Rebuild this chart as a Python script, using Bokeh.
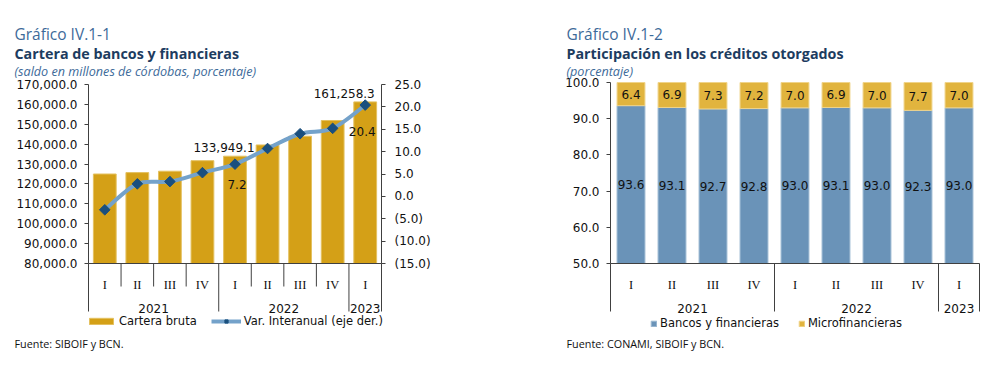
from bokeh.plotting import figure
from bokeh.models import (Range1d, LinearAxis, FixedTicker, NumeralTickFormatter,
                          Label, Legend, LegendItem, ColumnDataSource)
from bokeh.layouts import row
from bokeh.embed import file_html
from bokeh.resources import INLINE
from bokeh.core.properties import value

# ---------------- data ----------------
quarters = ["I", "II", "III", "IV", "I", "II", "III", "IV", "I"]
years = ["2021", "2022", "2023"]
quarters_per_year = [4, 4, 1]

cartera_bruta = [125000.0, 125700.0, 126400.0, 131700.0, 133949.1,
                 139600.0, 144000.0, 151900.0, 161258.3]
var_interanual = [-3.0, 2.8, 3.3, 5.3, 7.2, 10.7, 14.0, 15.2, 20.4]
cartera_ticks = [80000, 90000, 100000, 110000, 120000, 130000,
                 140000, 150000, 160000, 170000]
var_ticks = [-15, -10, -5, 0, 5, 10, 15, 20, 25]
labelled_bars = [4, 8]
labelled_points = [4, 8]

bancos = [93.6, 93.1, 92.7, 92.8, 93.0, 93.1, 93.0, 92.3, 93.0]
microfinancieras = [6.4, 6.9, 7.3, 7.2, 7.0, 6.9, 7.0, 7.7, 7.0]
share_ticks = [50, 60, 70, 80, 90, 100]

# ---------------- style ----------------
GOLD = "#D4A017"
GOLD_EDGE = "#E4C160"
LINE = "#74A2CA"
MARK = "#1A4F7E"
BLUE2 = "#6A93B8"
BLUE2_EDGE = "#9DBAD3"
GOLD2 = "#E1B43E"
GOLD2_EDGE = "#F0D48A"
AX = "#404040"
TXT = "#111111"
C_NUM = "#3D6A99"
C_TITLE = "#1D3C60"
NUMFONT = "DejaVu Sans"
TFONT = "Open Sans"

W1, W2, H = 558, 441, 369

xs = [i + 0.5 for i in range(len(quarters))]
bounds = [0]
for n in quarters_per_year:
    bounds.append(bounds[-1] + n)
year_centers = [(bounds[k] + bounds[k + 1]) / 2 for k in range(len(years))]
inner = [b for b in range(1, len(quarters)) if b not in bounds]
mid_b = [b for b in bounds if 0 < b < len(quarters)]
NQ = len(quarters)


def add_text(p, x, y, text, size, color, style="normal", font=TFONT):
    p.add_layout(Label(x=x, y=y, text=text, text_font=font, text_font_size=size,
                       text_color=color, text_font_style=style,
                       text_baseline="alphabetic", text_align="left"))


def make_fig(width, xr, yr):
    p = figure(width=width, height=H, x_range=xr, y_range=yr,
               output_backend="svg", toolbar_location=None,
               x_axis_location=None, y_axis_location=None,
               min_border=0, min_border_left=0, min_border_right=0,
               min_border_top=0, min_border_bottom=0)
    p.grid.grid_line_color = None
    p.outline_line_color = None
    p.background_fill_color = "white"
    p.border_fill_color = "white"
    return p


axis_kw = dict(major_tick_in=0, major_tick_out=4, minor_tick_line_color=None,
               axis_line_color=AX, major_tick_line_color=AX,
               major_label_text_font=NUMFONT, major_label_text_font_size="12px",
               major_label_text_color=TXT)

# ======================= Chart 1 =======================
XPU1 = 293 / 9          # px per category
VPP1 = 90000 / 179      # value per px (left axis)
PPP1 = 40 / 179         # percent per px (right axis)


def X1(px):
    return (px - 88) / XPU1


def Y1(py):
    return 170000 - (py - 84) * VPP1


def P1(py):
    return 25 - (py - 84) * PPP1


p1 = make_fig(W1, Range1d(X1(0), X1(W1)), Range1d(Y1(H), Y1(0)))
p1.extra_y_ranges = {"pct": Range1d(P1(H), P1(0))}

ax_l = LinearAxis(bounds=(80000, 170000), ticker=FixedTicker(ticks=cartera_ticks),
                  formatter=NumeralTickFormatter(format="0,0.0"), fixed_location=0,
                  major_label_standoff=7, **axis_kw)
p1.add_layout(ax_l, "left")
ax_r = LinearAxis(y_range_name="pct", bounds=(-15, 25), ticker=FixedTicker(ticks=var_ticks),
                  formatter=NumeralTickFormatter(format="(0.0)"), fixed_location=NQ,
                  major_label_standoff=9, **axis_kw)
p1.add_layout(ax_r, "right")

src1 = ColumnDataSource(dict(x=xs, top=cartera_bruta, var=var_interanual))
bars1 = p1.vbar(x="x", top="top", bottom=80000, width=0.7, source=src1,
                fill_color=GOLD, line_color=GOLD_EDGE, line_width=1)

# smooth line through the yearly-variation points (cubic Bezier segments)
bz = dict(x0=[], y0=[], x1=[], y1=[], cx0=[], cy0=[], cx1=[], cy1=[])
n = len(xs)
for i in range(n - 1):
    a = max(i - 1, 0)
    d = min(i + 2, n - 1)
    bz["x0"].append(xs[i]); bz["y0"].append(var_interanual[i])
    bz["x1"].append(xs[i + 1]); bz["y1"].append(var_interanual[i + 1])
    bz["cx0"].append(xs[i] + (xs[i + 1] - xs[a]) / 6)
    bz["cy0"].append(var_interanual[i] + (var_interanual[i + 1] - var_interanual[a]) / 6)
    bz["cx1"].append(xs[i + 1] - (xs[d] - xs[i]) / 6)
    bz["cy1"].append(var_interanual[i + 1] - (var_interanual[d] - var_interanual[i]) / 6)
p1.bezier(source=ColumnDataSource(bz), x0="x0", y0="y0", x1="x1", y1="y1",
          cx0="cx0", cy0="cy0", cx1="cx1", cy1="cy1",
          y_range_name="pct", line_color=LINE, line_width=4, line_cap="round")
marks = p1.scatter(x="x", y="var", source=src1, y_range_name="pct", marker="square",
                   angle=0.785398, size=7.5, fill_color=MARK, line_color=MARK)
# legend-only line (a single empty point, nothing is drawn in the plot)
legend_line = p1.line(x=[float("nan")], y=[float("nan")], y_range_name="pct",
                      line_color=LINE, line_width=4)

# value labels
p1.text(x=[xs[i] for i in labelled_bars], y=[cartera_bruta[i] for i in labelled_bars],
        text=[f"{cartera_bruta[i]:,.1f}" for i in labelled_bars],
        x_offset=[-11, -21], y_offset=-4, text_align="center", text_baseline="bottom",
        text_font=value(NUMFONT), text_font_size="12px", text_color=TXT)
p1.text(x=[xs[i] for i in labelled_points], y=[var_interanual[i] for i in labelled_points],
        text=[f"{var_interanual[i]:.1f}" for i in labelled_points], y_range_name="pct",
        x_offset=[2, -3], y_offset=[20, 26], text_align="center", text_baseline="middle",
        text_font=value(NUMFONT), text_font_size="12px", text_color=TXT)

# category axis (drawn below the value axis)
p1.segment(x0=[0], y0=[80000], x1=[NQ], y1=[80000], line_color=AX, line_width=1)
p1.segment(x0=inner, y0=80000, x1=inner, y1=Y1(286), line_color=AX, line_width=1)
p1.segment(x0=[0] + mid_b + [NQ], y0=80000, x1=[0] + mid_b + [NQ], y1=Y1(311),
           line_color=AX, line_width=1)
p1.text(x=xs, y=Y1(284), text=quarters, text_align="center", text_baseline="alphabetic",
        text_font=value("Liberation Serif"), text_font_size="12.5px", text_color=TXT)
p1.text(x=year_centers, y=Y1(308), text=years, text_align="center",
        text_baseline="alphabetic", text_font=value(NUMFONT), text_font_size="12px",
        text_color=TXT)

leg1 = Legend(items=[LegendItem(label="Cartera bruta", renderers=[bars1]),
                     LegendItem(label="Var. Interanual (eje der.)",
                                renderers=[legend_line, marks])],
              location=(86, 41), orientation="horizontal",
              label_text_font=NUMFONT, label_text_font_size="11.5px", label_text_color=TXT,
              glyph_width=30, glyph_height=8, label_height=14, label_standoff=3,
              spacing=14, padding=0, margin=0, border_line_color=None,
              background_fill_alpha=0)
p1.add_layout(leg1, "center")

add_text(p1, X1(14), Y1(33), "Gráfico IV.1-1", "15.5px", C_NUM)
add_text(p1, X1(14), Y1(52.5), "Cartera de bancos y financieras", "14.3px", C_TITLE, "bold")
add_text(p1, X1(14), Y1(71), "(saldo en millones de córdobas, porcentaje)", "12.6px", C_NUM, "italic")
add_text(p1, X1(14), Y1(343), "Fuente: SIBOIF y BCN.", "10.8px", TXT)

# ======================= Chart 2 =======================
XPU2 = 369 / 9
VPP2 = 50 / 181


def X2(px):
    return (px - 610) / XPU2


def Y2(py):
    return 100 - (py - 82) * VPP2


p2 = make_fig(W2, Range1d(X2(W1), X2(W1 + W2)), Range1d(Y2(H), Y2(0)))
ax2 = LinearAxis(bounds=(50, 100), ticker=FixedTicker(ticks=share_ticks),
                 formatter=NumeralTickFormatter(format="0.0"), fixed_location=0,
                 major_label_standoff=7, **axis_kw)
p2.add_layout(ax2, "left")

tops = [b + m for b, m in zip(bancos, microfinancieras)]
src2 = ColumnDataSource(dict(x=xs, b=bancos, m=microfinancieras, t=tops,
                             bmid=[(50 + b) / 2 for b in bancos],
                             mmid=[b + m / 2 for b, m in zip(bancos, microfinancieras)],
                             blab=[f"{b:.1f}" for b in bancos],
                             mlab=[f"{m:.1f}" for m in microfinancieras]))
rb = p2.vbar(x="x", bottom=50, top="b", width=0.68, source=src2,
             fill_color=BLUE2, line_color=BLUE2_EDGE, line_width=1)
rm = p2.vbar(x="x", bottom="b", top="t", width=0.68, source=src2,
             fill_color=GOLD2, line_color=GOLD2_EDGE, line_width=1)
p2.text(x="x", y="bmid", text="blab", source=src2, text_align="center",
        text_baseline="middle", text_font=value(NUMFONT), text_font_size="12px",
        text_color=TXT)
p2.text(x="x", y="mmid", text="mlab", source=src2, text_align="center",
        text_baseline="middle", text_font=value(NUMFONT), text_font_size="12px",
        text_color=TXT)

p2.segment(x0=[0], y0=[50], x1=[NQ], y1=[50], line_color=AX, line_width=1)
p2.segment(x0=[0] + mid_b + [NQ], y0=50, x1=[0] + mid_b + [NQ], y1=Y2(311),
           line_color=AX, line_width=1)
p2.text(x=xs, y=Y2(284), text=quarters, text_align="center", text_baseline="alphabetic",
        text_font=value("Liberation Serif"), text_font_size="12.5px", text_color=TXT)
p2.text(x=year_centers, y=Y2(308), text=years, text_align="center",
        text_baseline="alphabetic", text_font=value(NUMFONT), text_font_size="12px",
        text_color=TXT)

leg2 = Legend(items=[LegendItem(label="Bancos y financieras", renderers=[rb]),
                     LegendItem(label="Microfinancieras", renderers=[rm])],
              location=(92, 39), orientation="horizontal",
              label_text_font=NUMFONT, label_text_font_size="11.5px", label_text_color=TXT,
              glyph_width=7, glyph_height=7, label_height=14, label_standoff=3,
              spacing=19, padding=0, margin=0, border_line_color=None,
              background_fill_alpha=0)
p2.add_layout(leg2, "center")

add_text(p2, X2(566), Y2(33), "Gráfico IV.1-2", "15.5px", C_NUM)
add_text(p2, X2(566), Y2(52.5), "Participación en los créditos otorgados", "14.3px", C_TITLE, "bold")
add_text(p2, X2(566), Y2(71), "(porcentaje)", "12.6px", C_NUM, "italic")
add_text(p2, X2(566), Y2(343), "Fuente: CONAMI, SIBOIF y BCN.", "10.8px", TXT)

layout = row(p1, p2)
open("out.html", "w").write(file_html(layout, INLINE))
